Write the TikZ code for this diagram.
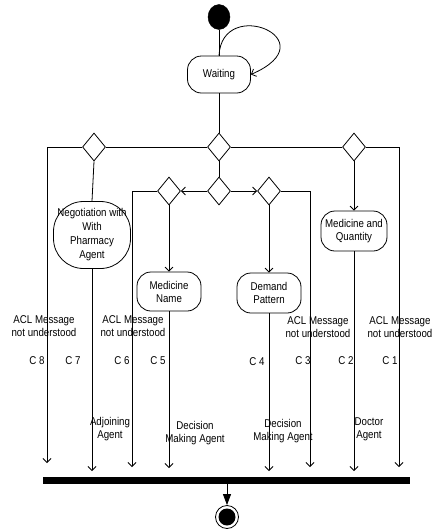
\documentclass[tikz,border=0pt]{standalone}
\usepackage{fontspec}
\setmainfont{Liberation Sans}[FakeStretch=0.86]
\usetikzlibrary{shapes.geometric,arrows.meta}

\begin{document}
\begin{tikzpicture}[x=1pt,y=-1pt,
  every node/.style={font=\fontsize{11.3}{13}\selectfont},
  line/.style={line width=0.8pt},
  flow/.style={line, -{Straight Barb[length=4pt,width=8pt]}},
  act/.style={draw, line width=0.8pt, rounded corners=14pt, align=center, inner sep=2pt},
  choice/.style={draw, diamond, line width=0.8pt, minimum width=23pt, minimum height=28pt, inner sep=0pt},
  lbl/.style={align=center, inner sep=0pt},
]
\useasboundingbox (0,0) rectangle (434,531);

% initial state and waiting activity
\node[draw, ellipse, fill=black, minimum width=22pt, minimum height=25pt, inner sep=0pt] (start) at (219,17) {};
\node[act, minimum width=63pt, minimum height=37pt] (wait) at (219,74.5) {Waiting};

% decision diamonds
\node[choice] (d0) at (219,147) {};
\node[choice] (dl) at (94,147) {};
\node[choice] (dr) at (354,147) {};
\node[choice] (d1) at (219,191) {};
\node[choice] (d2) at (169,191) {};
\node[choice] (d3) at (269,191) {};

% activities
\node[act, minimum width=77pt, minimum height=67pt, rounded corners=30pt,
      font=\fontsize{11.3}{14}\selectfont] (neg) at (92,235) {Negotiation with\\With\\Pharmacy\\Agent};
\node[act, minimum width=64pt, minimum height=39pt] (mn) at (169,291.5) {Medicine\\Name};
\node[act, minimum width=64pt, minimum height=40pt] (dp) at (269,293) {Demand\\Pattern};
\node[act, minimum width=66pt, minimum height=40pt] (mq) at (354,231) {Medicine and\\Quantity};

% synchronisation bar and final state
\node[fill=black, minimum width=367pt, minimum height=7pt, inner sep=0pt] (bar) at (226.5,480.5) {};
\node[draw, circle, line width=0.8pt, minimum size=23pt, inner sep=0pt] (end) at (227,517) {};
\fill (end.center) circle (8.5pt);

% free ends of the condition flows
\coordinate (c8) at (47,463);
\coordinate (c7) at (92,471);
\coordinate (c6) at (132,467);
\coordinate (c5) at (169,468);
\coordinate (c4) at (269,471);
\coordinate (c3) at (310,467);
\coordinate (c2) at (354,471);
\coordinate (c1) at (399,467);

% connectors
\draw[line] (start.south) -- (wait.north);
\draw[flow] (wait.north) .. controls (222,-5) and (330,40) .. (wait.east);
\draw[line] (wait.south) -- (d0.north);
\draw[line] (dl.east) -- (d0.west);
\draw[line] (d0.east) -- (dr.west);
\draw[line] (d0.south) -- (d1.north);
\draw[flow] (d1.west) -- (d2.east);
\draw[flow] (d1.east) -- (d3.west);
\draw[flow] (dl.west) -| (c8);
\draw[flow] (dr.east) -| (c1);
\draw[flow] (d2.west) -| (c6);
\draw[flow] (d3.east) -| (c3);
\draw[line] (dl.south) -- (neg.north);
\draw[flow] (d2.south) -- (mn.north);
\draw[flow] (d3.south) -- (dp.north);
\draw[flow] (dr.south) -- (mq.north);
\draw[flow] (neg.south) -- (c7);
\draw[flow] (mn.south) -- (c5);
\draw[flow] (dp.south) -- (c4);
\draw[flow] (mq.south) -- (c2);
\draw[line, -{Triangle[length=11pt,width=8pt]}] (bar.south -| end.north) -- (end.north);

% condition labels
\node[lbl] (m8) at (44,326) {ACL Message\\not understood};
\node[lbl] (m6) at (133,326) {ACL Message\\not understood};
\node[lbl] (m3) at (318,327) {ACL Message\\not understood};
\node[lbl] (m1) at (400,327) {ACL Message\\not understood};
\node[lbl] (k8) at (37,361) {C 8};
\node[lbl] (k7) at (73,361) {C 7};
\node[lbl] (k6) at (122,361) {C 6};
\node[lbl] (k5) at (158,361) {C 5};
\node[lbl] (k4) at (257,362) {C 4};
\node[lbl] (k3) at (303,361) {C 3};
\node[lbl] (k2) at (346,361) {C 2};
\node[lbl] (k1) at (390,361) {C 1};

% agent labels
\node[lbl] (a7) at (110,429) {Adjoining\\Agent};
\node[lbl] (a5) at (195,433) {Decision\\Making Agent};
\node[lbl] (a4) at (283,431) {Decision\\Making Agent};
\node[lbl] (a2) at (369,429) {Doctor\\Agent};
\end{tikzpicture}
\end{document}
